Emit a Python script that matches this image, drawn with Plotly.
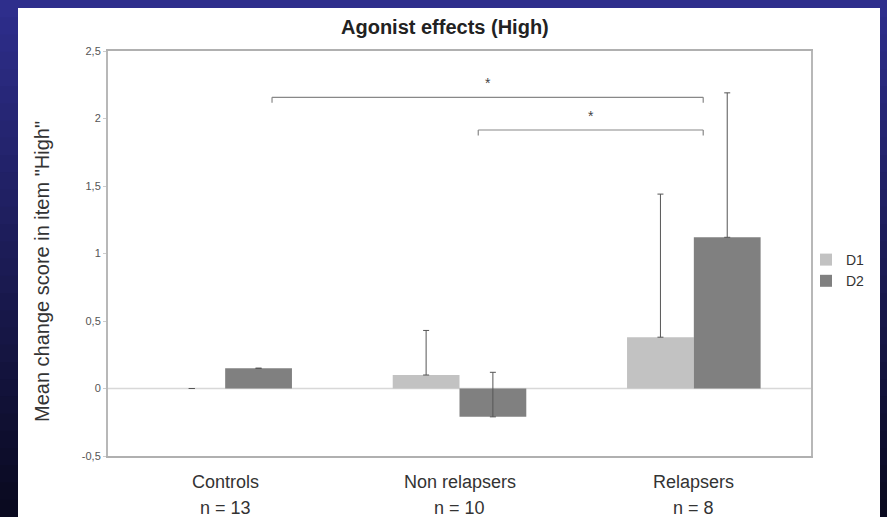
import plotly.graph_objects as go

categories = ["Controls", "Non relapsers", "Relapsers"]
n_labels = ["n = 13", "n = 10", "n = 8"]
d1_values = [0.0, 0.10, 0.38]
d1_errors = [0.0, 0.33, 1.06]
d2_values = [0.15, -0.21, 1.12]
d2_errors = [0.0, 0.33, 1.07]
y_ticks = [-0.5, 0, 0.5, 1, 1.5, 2, 2.5]
y_tick_labels = ["-0,5", "0", "0,5", "1", "1,5", "2", "2,5"]
# significance brackets: (x start, x end, y level, label)
brackets = [(0.2, 2.04, 2.157, "*"), (1.08, 2.04, 1.915, "*")]

W, H = 887, 517
L, R, T, B = 108, 76, 51, 61
pw, ph = W - L - R, H - T - B


def px(x):
    return (x - L) / pw


def py(y):
    return (H - B - y) / ph


x_idx = list(range(len(categories)))

fig = go.Figure()
fig.add_trace(go.Bar(
    x=x_idx, y=d1_values, name="D1", marker=dict(color="#c2c2c2", line=dict(width=0)),
    error_y=dict(type="data", array=d1_errors, arrayminus=[0]*3, symmetric=False,
                 color="#555555", thickness=1, width=3),
))
fig.add_trace(go.Bar(
    x=x_idx, y=d2_values, name="D2", marker=dict(color="#808080", line=dict(width=0)),
    error_y=dict(type="data", array=d2_errors, arrayminus=[0]*3, symmetric=False,
                 color="#555555", thickness=1, width=3),
))

shapes = []
# gradient background bands
nb = 30
for i in range(nb):
    f = i / (nb - 1)
    r = int(46 + (10 - 46) * f)
    g = int(46 + (10 - 46) * f)
    b = int(140 + (32 - 140) * f)
    y0 = i * H / nb
    y1 = (i + 1) * H / nb + 1
    shapes.append(dict(type="rect", xref="paper", yref="paper", layer="below",
                       x0=px(-2), x1=px(W + 2), y0=py(y1), y1=py(y0),
                       fillcolor=f"rgb({r},{g},{b})", line=dict(width=0)))
# white panel
shapes.append(dict(type="rect", xref="paper", yref="paper", layer="below",
                   x0=px(18), x1=px(880), y0=py(H + 2), y1=py(8),
                   fillcolor="white", line=dict(width=0)))
# zero line
shapes.append(dict(type="line", xref="paper", yref="y", x0=0, x1=1, y0=0, y1=0,
                   line=dict(color="#d8d8d8", width=1.5), layer="below"))

annotations = []
for x0, x1, yl, lab in brackets:
    shapes.append(dict(type="line", xref="x", yref="y", x0=x0, x1=x1, y0=yl, y1=yl,
                       line=dict(color="#888888", width=1.2)))
    for xx in (x0, x1):
        shapes.append(dict(type="line", xref="x", yref="y", x0=xx, x1=xx, y0=yl, y1=yl - 0.04,
                           line=dict(color="#888888", width=1.2)))
    annotations.append(dict(x=(x0 + x1) / 2, y=yl + 0.03, xref="x", yref="y", text=lab,
                            showarrow=False, yanchor="bottom",
                            font=dict(size=14, color="#444444")))

for i, (c, n) in enumerate(zip(categories, n_labels)):
    annotations.append(dict(x=i, y=py(482), xref="x", yref="paper", text=c, showarrow=False,
                            yanchor="middle", font=dict(size=18, color="#333333")))
    annotations.append(dict(x=i, y=py(508), xref="x", yref="paper", text=n, showarrow=False,
                            yanchor="middle", font=dict(size=18, color="#333333")))

annotations.append(dict(x=px(42), y=py(272), xref="paper", yref="paper",
                        text='Mean change score in item "High"', showarrow=False,
                        textangle=-90, xanchor="center", yanchor="middle",
                        font=dict(size=20, color="#333333")))
annotations.append(dict(x=px(445), y=py(27), xref="paper", yref="paper",
                        text="<b>Agonist effects (High)</b>", showarrow=False,
                        xanchor="center", yanchor="middle",
                        font=dict(size=20, color="#222222")))

fig.update_layout(
    width=W, height=H,
    margin=dict(l=L, r=R, t=T, b=B, autoexpand=False),
    paper_bgcolor="rgb(30,30,90)",
    plot_bgcolor="white",
    barmode="group", bargap=0.43, bargroupgap=0,
    font=dict(family="Liberation Sans, Arial, sans-serif", color="#333333"),
    xaxis=dict(tickmode="array", tickvals=x_idx, showticklabels=False, range=[-0.5, 2.5],
               showline=True, linecolor="#b0b0b0", linewidth=1.5, mirror=True,
               ticks="", showgrid=False, zeroline=False, automargin=False),
    yaxis=dict(range=[-0.5, 2.5], tickmode="array", tickvals=y_ticks, ticktext=y_tick_labels,
               showline=True, linecolor="#b8b8b8", linewidth=2, mirror=True,
               ticks="outside", ticklen=3, tickcolor="#cccccc",
               showgrid=False, zeroline=False, automargin=False,
               tickfont=dict(size=11, color="#555555")),
    legend=dict(x=px(806), y=py(244), xanchor="left", yanchor="top",
                bgcolor="rgba(0,0,0,0)", font=dict(size=14, color="#333333"),
                itemwidth=30, tracegroupgap=0),
    shapes=shapes,
    annotations=annotations,
)

fig.write_html("out.html", config={"displayModeBar": False},
               post_script="document.body.style.margin='0';document.body.style.overflow='hidden';")
